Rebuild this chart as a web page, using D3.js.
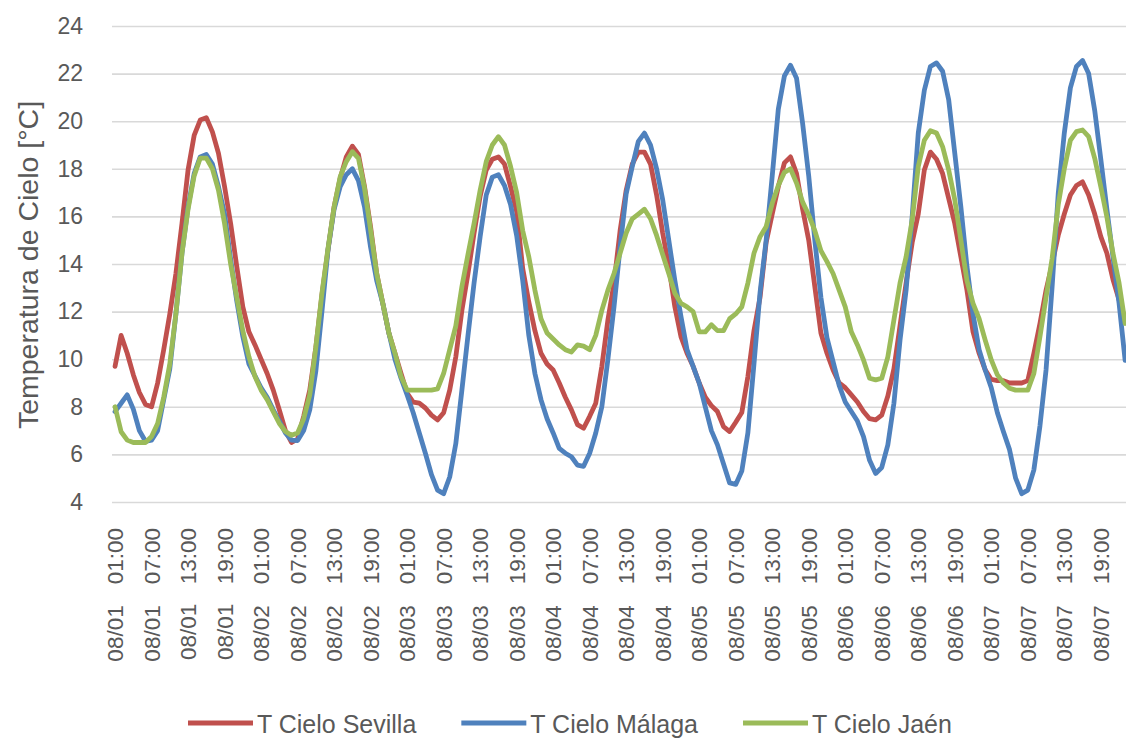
<!DOCTYPE html>
<html>
<head>
<meta charset="utf-8">
<script src="https://cdn.jsdelivr.net/npm/d3@7"></script>
<style>
  html, body { margin: 0; padding: 0; background: #ffffff; }
  svg { display: block; font-family: "Liberation Sans", Arial, sans-serif; }
</style>
</head>
<body>
<svg id="chart" width="1126" height="738"></svg>
<script>
// Hourly sky temperature, 08/01 01:00 to 08/07 23:00
const days = ["08/01", "08/02", "08/03", "08/04", "08/05", "08/06", "08/07"];
const hours = ["00:00","01:00","02:00","03:00","04:00","05:00","06:00","07:00","08:00","09:00","10:00","11:00",
               "12:00","13:00","14:00","15:00","16:00","17:00","18:00","19:00","20:00","21:00","22:00","23:00"];
const firstHour = "01:00";
const tickHours = ["01:00", "07:00", "13:00", "19:00"];
const yTicks = [4, 6, 8, 10, 12, 14, 16, 18, 20, 22, 24];

const sevilla = [
  9.7, 11.0, 10.25, 9.35, 8.6, 8.1, 8.0, 9.0, 10.4, 11.9, 13.6, 15.7, 17.95, 19.4, 20.05, 20.15, 19.55, 18.65, 17.25, 15.7, 13.9, 12.2, 11.15,
  10.6, 10.0, 9.4, 8.7, 7.87, 7.0, 6.5, 6.65, 7.6, 8.7, 10.5, 12.7, 14.6, 16.4, 17.6, 18.5, 18.95, 18.6, 17.25, 15.55, 13.6, 12.35, 11.1, 10.25,
  9.4, 8.57, 8.2, 8.15, 7.95, 7.65, 7.45, 7.75, 8.7, 10.1, 12.05, 13.6, 15.3, 16.85, 17.95, 18.4, 18.5, 18.2, 17.25, 16.2, 13.8, 12.4, 11.2, 10.25,
  9.8, 9.55, 9.0, 8.4, 7.87, 7.25, 7.1, 7.6, 8.15, 9.7, 11.65, 13.2, 15.4, 17.1, 18.2, 18.7, 18.7, 18.2, 16.9, 15.3, 13.9, 12.2, 10.95, 10.25,
  9.7, 9.0, 8.4, 8.05, 7.8, 7.17, 6.96, 7.35, 7.76, 9.27, 11.2, 12.6, 14.9, 16.1, 17.25, 18.25, 18.5, 17.8, 16.3, 15.0, 13.05, 11.1, 10.25, 9.55,
  9.0, 8.8, 8.5, 8.2, 7.8, 7.5, 7.45, 7.65, 8.45, 9.6, 11.4, 13.2, 14.9, 16.1, 17.95, 18.7, 18.4, 17.8, 16.75, 15.7, 14.3, 12.9, 11.15, 10.25,
  9.55, 9.15, 9.1, 9.1, 9.0, 9.0, 9.0, 9.1, 10.25, 11.5, 12.9, 14.0, 15.2, 16.1, 16.9, 17.3, 17.45, 16.9, 16.1, 15.15, 14.45, 13.35, 12.5, 11.65
];

const malaga = [
  7.8, 8.15, 8.5, 7.9, 7.0, 6.55, 6.6, 7.0, 8.3, 9.6, 11.9, 14.45, 16.4, 17.8, 18.5, 18.6, 18.2, 17.25, 16.1, 14.2, 12.45, 10.95, 9.8,
  9.3, 8.8, 8.4, 7.87, 7.4, 6.9, 6.6, 6.58, 7.0, 7.87, 9.5, 12.0, 14.6, 16.3, 17.25, 17.75, 18.0, 17.5, 16.4, 14.7, 13.3, 12.35, 11.1, 10.0,
  9.2, 8.5, 7.75, 6.9, 6.05, 5.15, 4.5, 4.35, 5.05, 6.45, 8.7, 11.0, 13.2, 15.15, 16.9, 17.65, 17.75, 17.3, 16.5, 15.2, 13.3, 11.0, 9.4, 8.3,
  7.5, 6.9, 6.25, 6.05, 5.9, 5.55, 5.5, 6.05, 6.9, 8.0, 10.0, 12.2, 14.7, 16.95, 18.1, 19.15, 19.5, 19.0, 18.0, 16.7, 15.0, 13.3, 11.8, 10.4,
  9.7, 9.0, 8.0, 7.0, 6.4, 5.6, 4.8, 4.74, 5.3, 6.9, 9.8, 12.8, 15.0, 17.7, 20.5, 21.9, 22.35, 21.8, 19.9, 17.7, 15.0, 12.6, 10.9, 9.9,
  8.9, 8.2, 7.8, 7.4, 6.75, 5.75, 5.2, 5.45, 6.4, 8.15, 10.8, 12.9, 16.0, 19.5, 21.3, 22.3, 22.45, 22.1, 20.9, 18.65, 16.4, 13.9, 11.9, 10.4,
  9.55, 8.8, 7.75, 6.95, 6.2, 5.0, 4.35, 4.5, 5.35, 7.2, 9.55, 13.05, 16.95, 19.5, 21.4, 22.3, 22.55, 22.0, 20.45, 18.4, 16.3, 14.3, 12.35, 9.95
];

const jaen = [
  8.0, 6.95, 6.6, 6.5, 6.5, 6.5, 6.75, 7.3, 8.4, 9.8, 11.9, 14.45, 16.3, 17.7, 18.45, 18.45, 18.0, 17.1, 15.7, 14.0, 12.6, 11.2, 10.1,
  9.27, 8.7, 8.3, 7.8, 7.3, 6.96, 6.8, 6.9, 7.5, 8.5, 10.5, 12.77, 14.66, 16.4, 17.67, 18.3, 18.72, 18.44, 17.18, 15.43, 13.6, 12.35, 11.1, 10.25,
  9.27, 8.7, 8.7, 8.7, 8.7, 8.7, 8.75, 9.4, 10.4, 11.4, 13.05, 14.4, 15.7, 17.1, 18.3, 19.0, 19.35, 19.0, 18.1, 17.0, 15.4, 14.3, 12.9, 11.7,
  11.1, 10.85, 10.6, 10.4, 10.3, 10.6, 10.55, 10.4, 11.0, 12.05, 12.9, 13.6, 14.45, 15.3, 15.9, 16.1, 16.3, 15.9, 15.2, 14.4, 13.6, 12.77, 12.35, 12.2,
  12.0, 11.15, 11.15, 11.45, 11.2, 11.2, 11.7, 11.9, 12.2, 13.2, 14.45, 15.15, 15.57, 16.55, 17.3, 17.85, 18.0, 17.4, 16.6, 16.06, 15.4, 14.56, 14.1, 13.6,
  12.9, 12.2, 11.15, 10.6, 9.97, 9.2, 9.13, 9.2, 10.1, 11.65, 13.2, 14.3, 15.85, 18.1, 19.2, 19.6, 19.5, 18.93, 17.95, 16.7, 15.0, 13.3, 12.35, 11.7,
  10.8, 9.97, 9.34, 9.0, 8.78, 8.7, 8.7, 8.7, 9.4, 10.95, 12.6, 14.24, 16.48, 18.0, 19.2, 19.56, 19.63, 19.35, 18.44, 17.25, 15.97, 14.45, 13.2, 11.5
];

const seriesNames = ["T Cielo Sevilla", "T Cielo Málaga", "T Cielo Jaén"];
const seriesColors = ["#C0504D", "#4F81BD", "#9BBB59"];
const seriesValues = [sevilla, malaga, jaen];

// Category labels "MM/DD HH:MM", starting at 01:00 on the first day
const categories = [];
days.forEach((d, di) => {
  hours.forEach((h, hi) => {
    if (di === 0 && hi < hours.indexOf(firstHour)) return;
    categories.push(d + " " + h);
  });
});
const tickCats = categories.filter(c => tickHours.includes(c.split(" ")[1]));

// Layout
const svg = d3.select("#chart");
const plotLeft = 112, plotTop = 26, plotBottom = 502;
const step = 6.085;
const plotRight = plotLeft + step * categories.length;

const x = d3.scaleBand().domain(categories).range([plotLeft, plotRight]).padding(0);
const y = d3.scaleLinear().domain([4, 24]).range([plotBottom, plotTop]);
const cx = c => x(c) + x.bandwidth() / 2;

// Horizontal gridlines and value labels
const yAxis = svg.append("g")
  .attr("transform", `translate(${plotLeft},0)`)
  .call(d3.axisLeft(y).tickValues(yTicks).tickSize(-(plotRight - plotLeft)).tickPadding(29));
yAxis.select(".domain").remove();
yAxis.selectAll(".tick line").attr("stroke", "#d9d9d9").attr("stroke-width", 1.6);
yAxis.selectAll(".tick text")
  .attr("fill", "#595959")
  .style("font-size", "23px")
  .style("font-family", "'Liberation Sans', Arial, sans-serif");

// Category labels, rotated
const xAxis = svg.append("g")
  .attr("transform", `translate(0,${plotBottom})`)
  .call(d3.axisBottom(x).tickValues(tickCats).tickSize(0).tickFormat(""));
xAxis.select(".domain").remove();
xAxis.selectAll(".tick text").each(function (d) {
  const [dd, hh] = d.split(" ");
  const t = d3.select(this)
    .attr("transform", "rotate(-90)")
    .attr("x", -26).attr("y", 0).attr("dy", "0.36em")
    .attr("text-anchor", "end")
    .attr("fill", "#595959")
    .style("font-size", "22.5px")
    .style("font-family", "'Liberation Sans', Arial, sans-serif");
  t.text(null);
  t.append("tspan").text(dd);
  t.append("tspan").attr("dx", 21).text(hh);
});

// Y axis title
svg.append("text")
  .attr("transform", "translate(38,265) rotate(-90)")
  .attr("text-anchor", "middle")
  .attr("fill", "#595959")
  .style("font-size", "28.5px")
  .text("Temperatura de Cielo [°C]");

// Series lines
svg.append("clipPath").attr("id", "plotClip")
  .append("rect").attr("x", 0).attr("y", 0).attr("width", 1126).attr("height", 738);

const line = d3.line()
  .x((v, i) => cx(categories[i]))
  .y(v => y(v))
  .curve(d3.curveLinear);

svg.append("g").attr("clip-path", "url(#plotClip)")
  .selectAll("path")
  .data(seriesValues)
  .join("path")
  .attr("d", d => line(d))
  .attr("fill", "none")
  .attr("stroke", (d, i) => seriesColors[i])
  .attr("stroke-width", 4.8)
  .attr("stroke-linejoin", "round")
  .attr("stroke-linecap", "round");

// Legend
const legend = svg.append("g");
let lx = 188;
const legendY = 723;
seriesNames.forEach((name, i) => {
  legend.append("line")
    .attr("x1", lx).attr("x2", lx + 65)
    .attr("y1", legendY).attr("y2", legendY)
    .attr("stroke", seriesColors[i]).attr("stroke-width", 4.8);
  const t = legend.append("text")
    .attr("x", lx + 69).attr("y", legendY + 10)
    .attr("fill", "#595959")
    .style("font-size", "25px")
    .text(name);
  lx = lx + 69 + t.node().getComputedTextLength() + 45;
});
</script>
</body>
</html>
